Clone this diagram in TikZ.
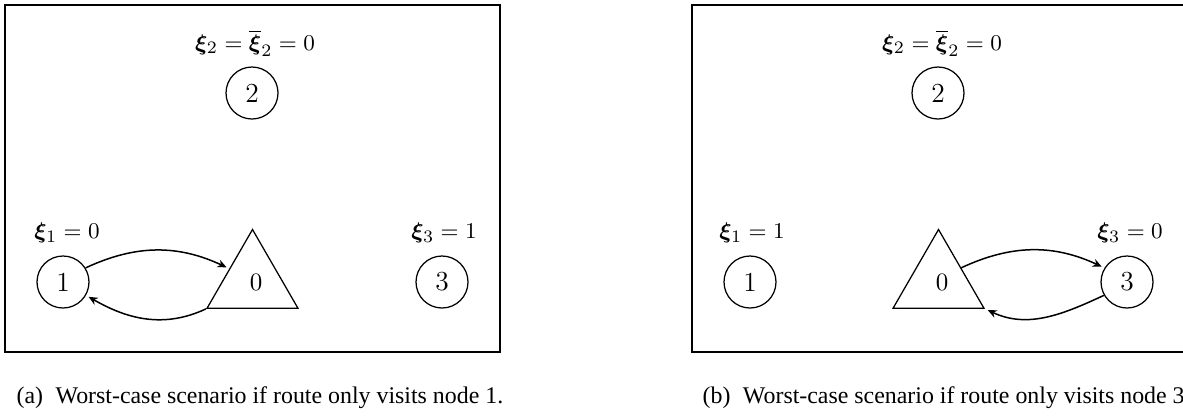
\documentclass[tikz,border=0pt]{standalone}
\usepackage{amsmath,bm}
\usepackage{fontspec}
\newfontfamily\capfont{Liberation Serif}
\usetikzlibrary{shapes.geometric,arrows.meta}
\tikzset{
  every picture/.style={line width=0.5pt},
  panel/.style={draw,line width=0.9pt},
  cnode/.style={draw,circle,minimum size=20.8pt,inner sep=0pt,font=\fontsize{11}{13}\selectfont},
  depot/.style={draw,regular polygon,regular polygon sides=3,minimum size=42pt,inner sep=0pt,font=\fontsize{10}{12}\selectfont},
  xlab/.style={inner sep=0pt,font=\fontsize{9.3}{11}\selectfont},
  captext/.style={inner sep=0pt,anchor=west,font=\capfont\fontsize{9.55}{12}\selectfont},
  arr/.style={line width=0.6pt,-{Stealth[length=3.6pt,width=3.2pt]},shorten >=1.2pt},
}
\begin{document}
\begin{tikzpicture}[x=0.4pt,y=-0.4pt]
\useasboundingbox (0,0) rectangle (1183,415);
\clip (0,0) rectangle (1183,415);
% ---------- panel (a)
\draw[panel] (5,5) rectangle (500,352);
\node[xlab] (la2) at (255,43) {$\bm{\xi}_2=\overline{\bm{\xi}}_2=0$};
\node[cnode] (a2) at (252,93) {2};
\node[xlab] (la1) at (67,233) {$\bm{\xi}_1=0$};
\node[cnode] (a1) at (63,282) {1};
\node[depot] (a0) at (252.5,282) {\hspace*{2.8pt}0};
\node[xlab] (la3) at (444,233) {$\bm{\xi}_3=1$};
\node[cnode] (a3) at (442,282) {3};
\draw[arr] (a1.32) to[out=25,in=155] (a0.150);
\draw[arr] (a0.corner 2) to[out=205,in=-30] (a1.-30);
\node[captext] (capa) at (16,398) {(a)\hspace{5pt}Worst-case scenario if route only visits node 1.};
% ---------- panel (b)
\draw[panel] (692,5) rectangle (1187,352);
\node[xlab] (lb2) at (942,43) {$\bm{\xi}_2=\overline{\bm{\xi}}_2=0$};
\node[cnode] (b2) at (938,93) {2};
\node[xlab] (lb1) at (752,233) {$\bm{\xi}_1=1$};
\node[cnode] (b1) at (750,282) {1};
\node[depot] (b0) at (938.5,282) {\hspace*{2.8pt}0};
\node[xlab] (lb3) at (1130,233) {$\bm{\xi}_3=0$};
\node[cnode] (b3) at (1127,282) {3};
\draw[arr] (b0.32) to[out=25,in=155] (b3.148);
\draw[arr] (b3.210) to[out=205,in=-25] (b0.corner 3);
\node[captext] (capb) at (702,398) {(b)\hspace{5pt}Worst-case scenario if route only visits node 3.};
\end{tikzpicture}
\end{document}
